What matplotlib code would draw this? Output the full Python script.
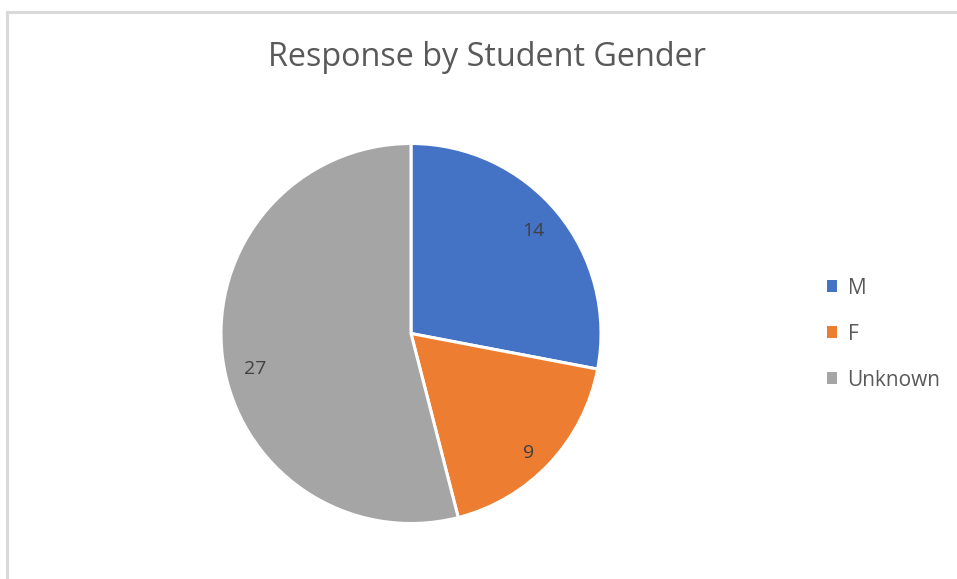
import numpy as np
import matplotlib
matplotlib.use("Agg")
import matplotlib.pyplot as plt
from matplotlib.lines import Line2D

# data
labels = ["M", "F", "Unknown"]
counts = [14, 9, 27]
colors = ["#4472C4", "#ED7D31", "#A5A5A5"]
title = "Response by Student Gender"

plt.rcParams['font.family'] = ['Open Sans', 'DejaVu Sans']

W, H = 957, 579
fig = plt.figure(figsize=(W / 100, H / 100), dpi=100)

# chart border (only left and top visible in the reference)
fig.add_artist(Line2D([7.5 / W, 7.5 / W], [0, 1 - 12 / H], color="#D9D9D9", lw=2.2,
                      transform=fig.transFigure))
fig.add_artist(Line2D([7.5 / W, 1], [1 - 12 / H, 1 - 12 / H], color="#D9D9D9", lw=2.2,
                      transform=fig.transFigure))

cx, cy, r = 411, 333.5, 190
ax = fig.add_axes([(cx - r) / W, (H - cy - r) / H, 2 * r / W, 2 * r / H])
total = sum(counts)
wedges, texts, autotexts = ax.pie(
    counts, colors=colors, startangle=90, counterclock=False,
    autopct=lambda p: f"{round(p * total / 100):d}", pctdistance=0.85,
    wedgeprops=dict(edgecolor="white", linewidth=2.2),
    textprops=dict(color="#404040", fontsize=14))
ax.set_xlim(-1, 1)
ax.set_ylim(-1, 1)
ax.set_aspect("equal")

# Excel "best fit" placement: nudge label angle/radius from the wedge centre
nudge = [(0.5, 0.84), (-2.2, 0.88), (5.7, 0.84)]
for w, t, (da, rd) in zip(wedges, autotexts, nudge):
    ang = np.deg2rad((w.theta1 + w.theta2) / 2 + da)
    t.set_position((rd * np.cos(ang), rd * np.sin(ang)))

fig.text(487 / W, 1 - 57 / H, title, ha="center", va="center",
         fontsize=23.3, color="#595959")

leg = fig.legend(wedges, labels, loc="center left",
                 bbox_to_anchor=(808 / W, 1 - 334 / H),
                 frameon=False, fontsize=15, labelcolor="#595959",
                 handlelength=0.5, handleheight=0.5, handletextpad=0.5,
                 labelspacing=1.2)
for h in leg.legend_handles:
    h.set_edgecolor("none")

fig.savefig("out.png", dpi=100, facecolor="white")
